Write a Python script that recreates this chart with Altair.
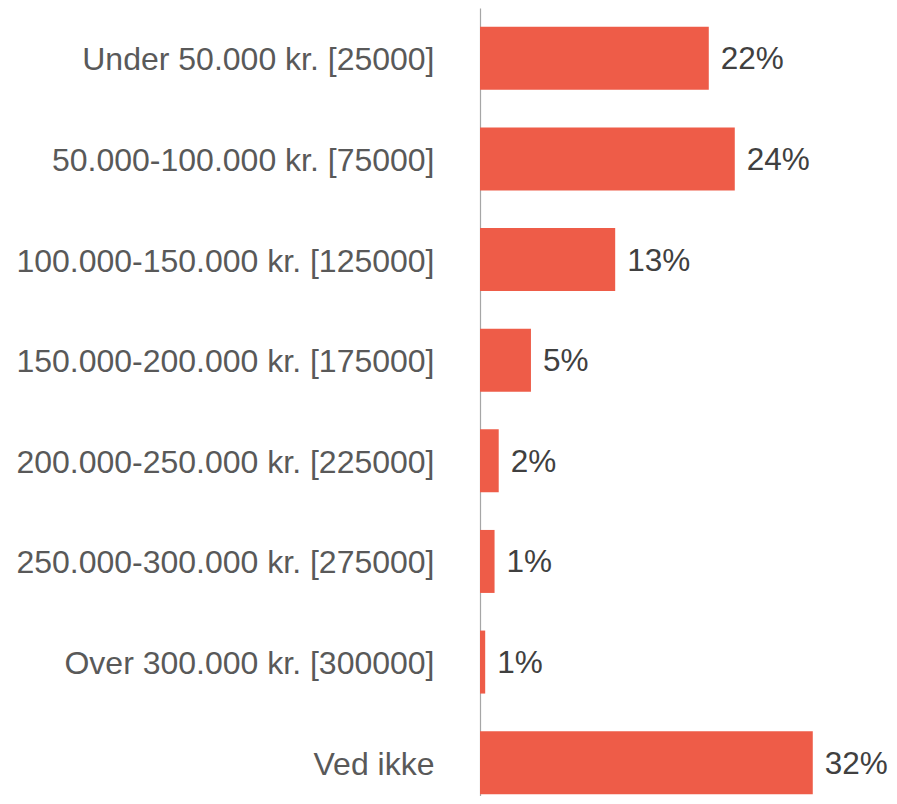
import altair as alt
import pandas as pd

categories = [
    "Under 50.000 kr. [25000]",
    "50.000-100.000 kr. [75000]",
    "100.000-150.000 kr. [125000]",
    "150.000-200.000 kr. [175000]",
    "200.000-250.000 kr. [225000]",
    "250.000-300.000 kr. [275000]",
    "Over 300.000 kr. [300000]",
    "Ved ikke",
]
values = [22.0, 24.5, 13.0, 4.9, 1.8, 1.4, 0.5, 32.0]
labels = ["22%", "24%", "13%", "5%", "2%", "1%", "1%", "32%"]

df = pd.DataFrame({"cat": categories, "val": values, "lab": labels})

y = alt.Y(
    "cat:N",
    sort=categories,
    title=None,
    scale=alt.Scale(range=[0, 805], paddingInner=0.374, paddingOuter=0.187),
    axis=alt.Axis(
        domain=True,
        domainColor="#A6A6A6",
        domainWidth=1.2,
        ticks=False,
        tickSize=0,
        labelPadding=46,
        labelOffset=2,
        labelFontSize=32,
        labelFont="Liberation Sans",
        labelColor="#595959",
        labelLimit=1000,
        grid=False,
    ),
)
x = alt.X("val:Q", scale=alt.Scale(domain=[0, 39.33]), axis=None, title=None)

bars = alt.Chart(df).mark_bar(color="#EE5C48").encode(x=x, y=y)
text = alt.Chart(df).mark_text(
    align="left", baseline="middle", dx=12, dy=2, fontSize=31.5,
    font="Liberation Sans", color="#404040"
).encode(x=x, y=y, text="lab:N")

chart = (bars + text).properties(
    width=409,
    height=788,
    autosize=alt.AutoSizeParams(type="none"),
    padding={"left": 472, "top": 0, "right": 0, "bottom": 0},
).configure_view(stroke=None)

chart.save("out.html", embed_options={"renderer": "svg", "actions": False})
